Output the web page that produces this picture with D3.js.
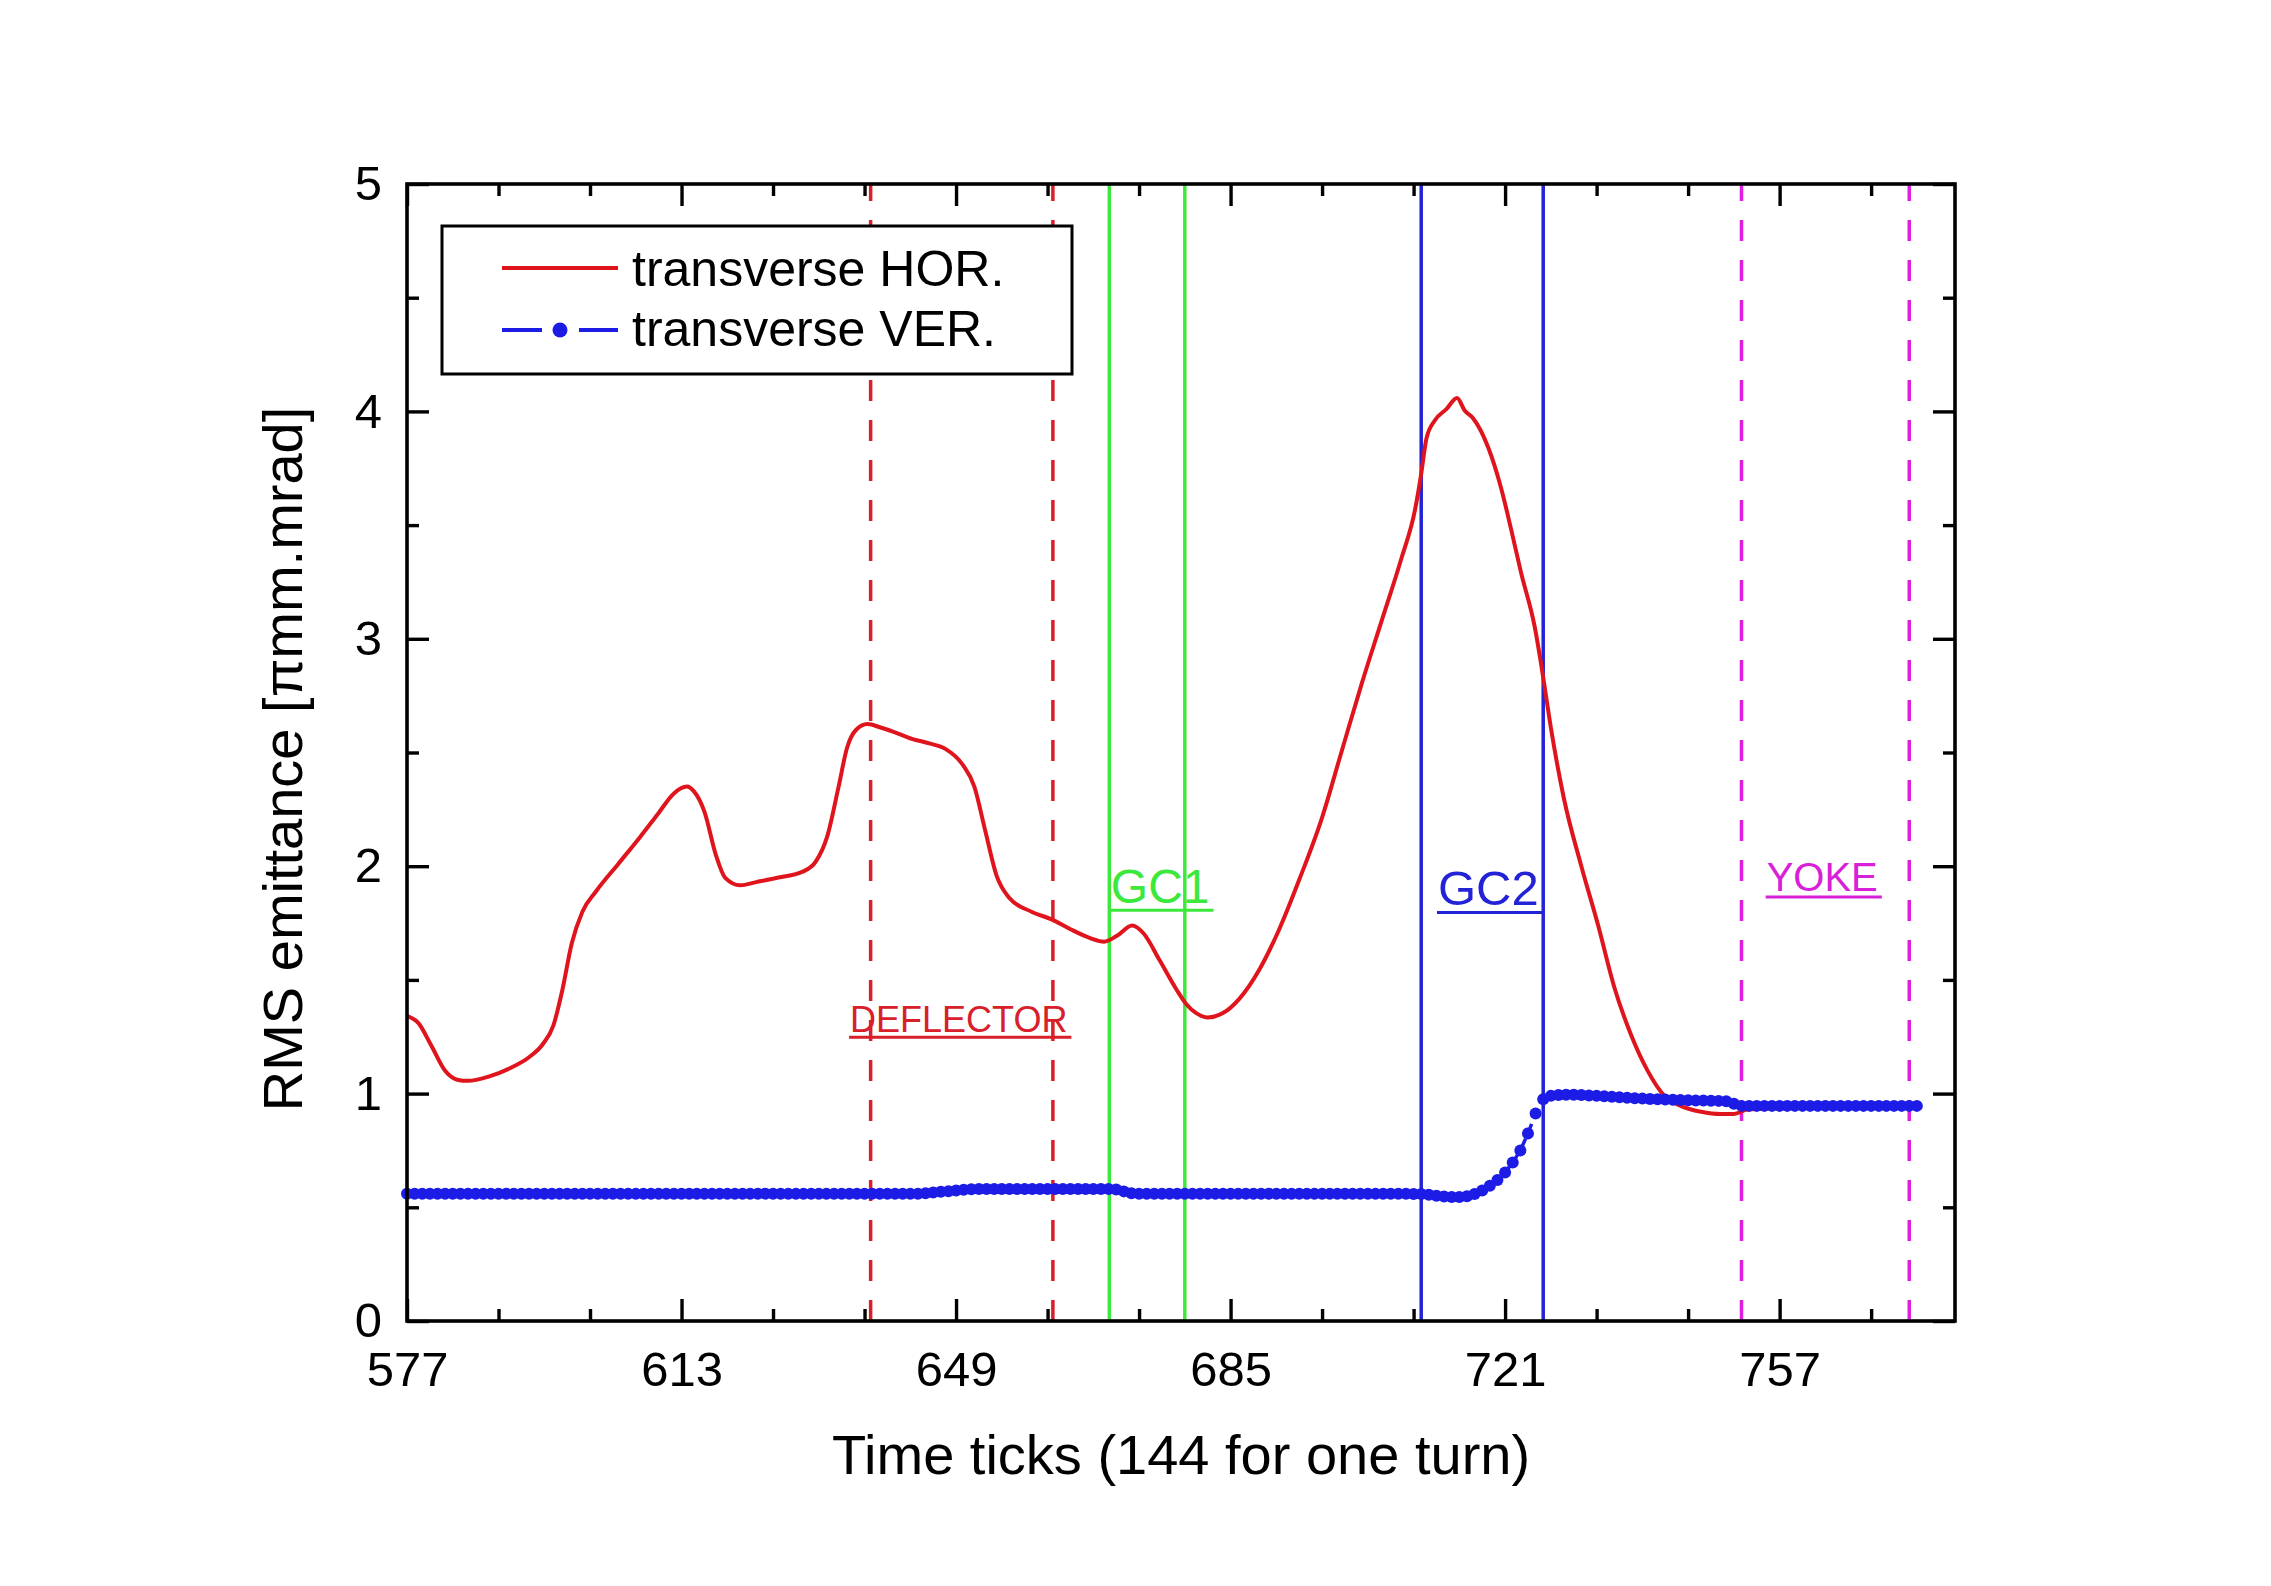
<!DOCTYPE html>
<html><head><meta charset="utf-8">
<script src="https://cdn.jsdelivr.net/npm/d3@7"></script>
<style>
body{margin:0;background:#fff}
text{font-family:"Liberation Sans",Arial,Helvetica,sans-serif}
</style>
</head><body>
<svg id="c" width="2271" height="1586"></svg>
<script>
// ---------------- data ----------------
const horX = [577,578.5,580.2,582,583.7,585,587.8,590.7,593,594.8,596.2,597.4,598.6,600,601.8,604.7,607.6,609.9,612,613.7,614.6,616,617.5,618.7,620.7,622.8,625.7,628.9,630.6,632.1,633.6,634.7,635.9,637.4,639.1,640.9,643.2,645.5,647.6,649.9,651.4,652.8,654.3,656,658.9,661.6,664,666.6,668.4,670.1,672.1,673.6,675.7,677.9,679.2,680.5,682,684,686.2,688.8,691.4,694,697,699.6,702.2,704.8,707.4,709.2,710,710.7,711.8,713.3,714.7,715.7,716.8,718.8,720.5,721.8,723.1,724.9,726,727,728.7,731,733.2,735.3,737.5,739.7,741.9,744.1,746.7,749.3,751,752.8,757,765,775];
const horY = [1.342,1.31,1.21,1.10,1.06,1.056,1.076,1.115,1.16,1.217,1.30,1.46,1.66,1.80,1.89,2.01,2.13,2.23,2.32,2.35,2.33,2.24,2.05,1.95,1.916,1.93,1.95,1.976,2.02,2.13,2.35,2.52,2.60,2.625,2.61,2.59,2.56,2.54,2.516,2.445,2.35,2.16,1.96,1.86,1.80,1.765,1.723,1.684,1.668,1.694,1.739,1.704,1.586,1.458,1.393,1.354,1.335,1.354,1.419,1.547,1.724,1.94,2.214,2.509,2.803,3.078,3.353,3.569,3.726,3.883,3.961,4.01,4.059,4.004,3.97,3.84,3.66,3.48,3.29,3.05,2.83,2.61,2.30,2.00,1.74,1.47,1.26,1.10,0.99,0.945,0.92,0.91,0.91,0.93,0.935,0.94,0.945];

// one value per time tick, starting at tick 577
const verStart = 577;
const verY = [
0.56,0.56,0.56,0.56,0.56,0.56,0.56,0.56,0.56,0.56,
0.56,0.56,0.56,0.56,0.56,0.56,0.56,0.56,0.56,0.56,
0.56,0.56,0.56,0.56,0.56,0.56,0.56,0.56,0.56,0.56,
0.56,0.56,0.56,0.56,0.56,0.56,0.56,0.56,0.56,0.56,
0.56,0.56,0.56,0.56,0.56,0.56,0.56,0.56,0.56,0.56,
0.56,0.56,0.56,0.56,0.56,0.56,0.56,0.56,0.56,0.56,
0.56,0.56,0.56,0.56,0.56,0.56,0.56,0.56,
0.562,0.565,0.568,0.571,0.574,0.577,0.579,
0.58,0.58,0.58,0.58,0.58,0.58,0.58,0.58,0.58,0.58,0.58,0.58,0.58,0.58,0.58,0.58,0.58,0.58,
0.578,0.57,0.562,
0.56,0.56,0.56,0.56,0.56,0.56,0.56,0.56,0.56,0.56,0.56,0.56,0.56,0.56,0.56,0.56,0.56,0.56,
0.56,0.56,0.56,0.56,0.56,0.56,0.56,0.56,0.56,0.56,0.56,0.56,0.56,0.56,0.56,0.56,0.56,0.56,
0.559,0.558,0.555,0.551,0.547,0.545,0.545,0.549,0.558,0.574,0.595,0.62,0.653,0.697,0.75,0.825,0.912,0.975,0.99,0.994,
0.995,0.995,0.994,0.992,0.99,0.988,0.986,0.984,0.982,0.98,0.978,0.976,0.975,0.974,0.973,0.972,0.971,0.97,0.97,0.969,
0.968,0.966,0.955,0.946,
0.946,0.946,0.946,0.946,0.946,0.946,0.946,0.946,0.946,0.946,0.946,0.946,0.946,0.946,0.946,0.946,0.946,0.946,0.946,0.946,0.946,0.946,0.946
];

const deflectorX = [637.8, 661.7];
const gc1X = [669.1, 679.0];
const gc2X = [710.0, 726.0];
const yokeX = [752.0, 774.0];
const annotLabels = ["DEFLECTOR", "GC1", "GC2", "YOKE"];
const annotAt = [[635.1, 1.271], [669.3, 1.838], [712.2, 1.829], [755.3, 1.891]];

const xMajorTicks = [577, 613, 649, 685, 721, 757];
const xMinorTicks = [589, 601, 625, 637, 661, 673, 697, 709, 733, 745, 769];
const yMajorTicks = [0, 1, 2, 3, 4, 5];
const yMinorTicks = [0.5, 1.5, 2.5, 3.5, 4.5];
const seriesNames = ["transverse HOR.", "transverse VER."];
const xTitle = "Time ticks (144 for one turn)";
const yTitle = "RMS emittance [\u03C0mm.mrad]";

// ---------------- layout ----------------
const L = 407, R = 1955, T = 184, B = 1321;
const RED = "#e0141c", DRED = "#d8202a", GREEN = "#3ce83c", BLUE = "#2222d6", VBLUE = "#1c1ce6", MAG = "#e020e0";

const svg = d3.select("#c");
svg.append("rect").attr("width", 2271).attr("height", 1586).attr("fill", "#fff");

const x = d3.scaleLinear().domain([577, 780]).range([L, R]);
const y = d3.scaleLinear().domain([0, 5]).range([B, T]);

const plot = svg.append("g");

// annotation labels
const annColors = [DRED, GREEN, BLUE, "#d820d8"];
const annSizes = [36, 48, 49, 40];
annotLabels.forEach((s, i) => {
  const tx = x(annotAt[i][0]), ty = y(annotAt[i][1]);
  const t = plot.append("text").attr("x", tx).attr("y", ty)
    .attr("fill", annColors[i]).attr("font-size", annSizes[i]).text(s);
  const len = t.node().getComputedTextLength();
  plot.append("line").attr("x1", tx - 1).attr("x2", tx + len + 4)
    .attr("y1", ty + annSizes[i] * 0.15).attr("y2", ty + annSizes[i] * 0.15)
    .attr("stroke", annColors[i]).attr("stroke-width", 3);
});

// vertical marker lines
function vlines(xs, color, dashed) {
  plot.selectAll(null).data(xs).enter().append("line")
    .attr("x1", d => x(d)).attr("x2", d => x(d))
    .attr("y1", B).attr("y2", T)
    .attr("stroke", color).attr("stroke-width", 3.5)
    .attr("stroke-dasharray", dashed ? "21,19" : null);
}
vlines(deflectorX, DRED, true);
vlines(gc1X, GREEN, false);
vlines(gc2X, BLUE, false);
vlines(yokeX, MAG, true);

// HOR curve
const horData = horX.map((d, i) => [d, horY[i]]);
plot.append("path").datum(horData)
  .attr("d", d3.line().x(d => x(d[0])).y(d => y(d[1])).curve(d3.curveMonotoneX))
  .attr("fill", "none").attr("stroke", RED).attr("stroke-width", 4).attr("stroke-linejoin", "round");

// VER series
const verData = verY.map((v, i) => [verStart + i, v]);
plot.append("path").datum(verData)
  .attr("d", d3.line().x(d => x(d[0])).y(d => y(d[1])))
  .attr("fill", "none").attr("stroke", VBLUE).attr("stroke-width", 3.5).attr("stroke-dasharray", "10,6");
plot.selectAll(null).data(verData).enter().append("circle")
  .attr("cx", d => x(d[0])).attr("cy", d => y(d[1])).attr("r", 6)
  .attr("fill", VBLUE);

// axes (ticks inward on all sides)
function styleAxis(g) {
  g.select(".domain").remove();
  g.selectAll(".tick line").attr("stroke", "#000").attr("stroke-width", 3.4);
  g.selectAll("text").attr("font-family", "Liberation Sans, Arial, sans-serif").attr("font-size", 49).attr("fill", "#000");
}
svg.append("g").attr("transform", `translate(0,${B})`)
  .call(d3.axisBottom(x).tickValues(xMajorTicks).tickSize(-22).tickPadding(30).tickFormat(d3.format("d")))
  .call(styleAxis);
svg.append("g").attr("transform", `translate(0,${B})`)
  .call(d3.axisBottom(x).tickValues(xMinorTicks).tickSize(-12).tickFormat(""))
  .call(styleAxis);
svg.append("g").attr("transform", `translate(0,${T})`)
  .call(d3.axisTop(x).tickValues(xMajorTicks).tickSize(-22).tickFormat(""))
  .call(styleAxis);
svg.append("g").attr("transform", `translate(0,${T})`)
  .call(d3.axisTop(x).tickValues(xMinorTicks).tickSize(-12).tickFormat(""))
  .call(styleAxis);
svg.append("g").attr("transform", `translate(${L},0)`)
  .call(d3.axisLeft(y).tickValues(yMajorTicks).tickSize(-22).tickPadding(25).tickFormat(d3.format("d")))
  .call(styleAxis);
svg.append("g").attr("transform", `translate(${L},0)`)
  .call(d3.axisLeft(y).tickValues(yMinorTicks).tickSize(-12).tickFormat(""))
  .call(styleAxis);
svg.append("g").attr("transform", `translate(${R},0)`)
  .call(d3.axisRight(y).tickValues(yMajorTicks).tickSize(-22).tickFormat(""))
  .call(styleAxis);
svg.append("g").attr("transform", `translate(${R},0)`)
  .call(d3.axisRight(y).tickValues(yMinorTicks).tickSize(-12).tickFormat(""))
  .call(styleAxis);

// frame
svg.append("rect").attr("x", L).attr("y", T).attr("width", R - L).attr("height", B - T)
  .attr("fill", "none").attr("stroke", "#000").attr("stroke-width", 3.6);

// axis titles
svg.append("text").attr("x", (L + R) / 2).attr("y", 1474).attr("text-anchor", "middle")
  .attr("font-size", 56).attr("fill", "#000").text(xTitle);
svg.append("text").attr("transform", "translate(302,759) rotate(-90)").attr("text-anchor", "middle")
  .attr("font-size", 56).attr("fill", "#000").text(yTitle);

// legend
const lg = svg.append("g");
lg.append("rect").attr("x", 442).attr("y", 226).attr("width", 630).attr("height", 148)
  .attr("fill", "#fff").attr("stroke", "#000").attr("stroke-width", 3);
lg.append("line").attr("x1", 502).attr("x2", 618).attr("y1", 268).attr("y2", 268)
  .attr("stroke", RED).attr("stroke-width", 4);
lg.append("line").attr("x1", 502).attr("x2", 542).attr("y1", 330).attr("y2", 330)
  .attr("stroke", VBLUE).attr("stroke-width", 4);
lg.append("line").attr("x1", 579).attr("x2", 618).attr("y1", 330).attr("y2", 330)
  .attr("stroke", VBLUE).attr("stroke-width", 4);
lg.append("circle").attr("cx", 560).attr("cy", 330).attr("r", 7.5).attr("fill", VBLUE);
lg.selectAll(null).data(seriesNames).enter().append("text")
  .attr("x", 632).attr("y", (d, i) => 286 + i * 60)
  .attr("font-size", 50).attr("fill", "#000").text(d => d);
</script>
</body></html>
